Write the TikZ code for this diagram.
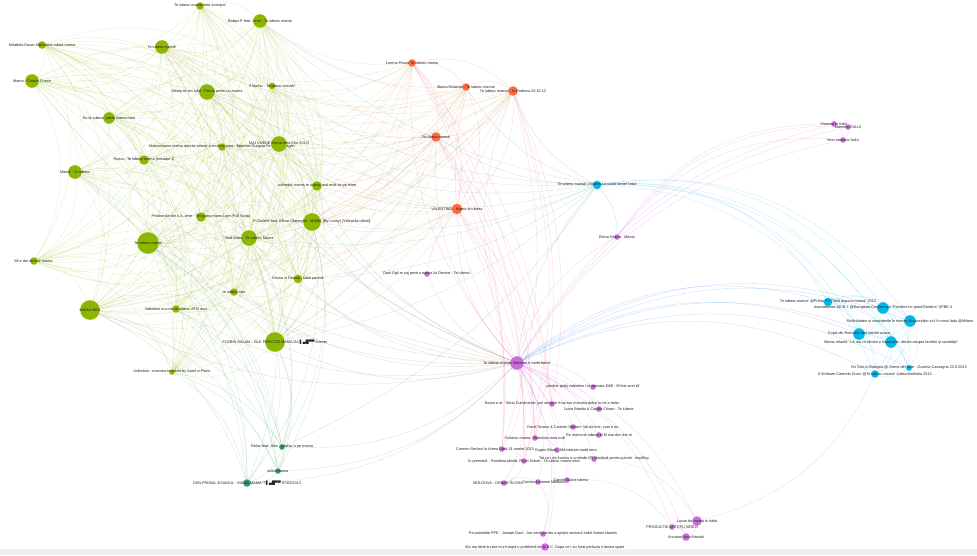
\documentclass[tikz,border=0pt]{standalone}
\usepackage{fontspec}
\setmainfont{Liberation Sans}
\newfontfamily\dv{DejaVu Sans}
\usetikzlibrary{backgrounds}
\definecolor{gcol}{HTML}{8DB600}
\definecolor{tcol}{HTML}{2F9A6A}
\definecolor{ocol}{HTML}{FF6A3D}
\definecolor{pcol}{HTML}{C86DD7}
\definecolor{ccol}{HTML}{00B7EB}
\definecolor{txt}{HTML}{222222}
\definecolor{eg}{HTML}{A3C63F}
\definecolor{eog}{HTML}{C9A35A}
\definecolor{eoo}{HTML}{F5907A}
\definecolor{epg}{HTML}{B4987A}
\definecolor{epo}{HTML}{EE8AA0}
\definecolor{epc}{HTML}{5A9CF0}
\definecolor{epp}{HTML}{DC8AE6}
\definecolor{ecc}{HTML}{55CFF2}
\definecolor{ecg}{HTML}{70C4A8}
\definecolor{etg}{HTML}{7CC08A}
\definecolor{etp}{HTML}{9A9AD0}
\definecolor{eoc}{HTML}{90A8B8}
\newcommand\lf{\fontsize{3.8}{4}\selectfont}
\tikzset{
  vtx/.style={circle, inner sep=0pt, minimum size=#1, draw=white, line width=0.15pt},
  gnode/.style={vtx=#1, fill=gcol},
  tnode/.style={vtx=#1, fill=tcol},
  onode/.style={vtx=#1, fill=ocol},
  pnode/.style={vtx=#1, fill=pcol},
  cnode/.style={vtx=#1, fill=ccol},
  every label/.style={font=\lf, text=txt, inner sep=0pt},
  edge/.style={draw=#1, line width=0.3pt, draw opacity=0.4},
  ledge/.style={draw=#1, line width=0.3pt, draw opacity=0.3},
}
\begin{document}
\begin{tikzpicture}[x=1pt,y=-1pt]
\useasboundingbox (0,0) rectangle (977,555);
% green cluster
\node[gnode=8pt, label={center:{Te iubesc mama mea scumpa!}}] (g1) at (200,6) {};
\node[gnode=14pt, label={center:{Baban P feat. Ionel - Te iubesc mamă}}] (g2) at (260,21) {};
\node[gnode=14pt, label={center:{Te iubesc mamă!}}] (g3) at (162,47) {};
\node[gnode=8pt, label={center:{Mirabela Dauer-Mă iubesc iubita mama}}] (g4) at (42,45) {};
\node[gnode=14pt, label={center:{Mama - Catalin Crisan}}] (g5) at (32,81) {};
\node[gnode=12pt, label={center:{Eu te iubesc, iubita mama mea}}] (g6) at (109,118) {};
\node[gnode=16pt, label={center:{Mama te-am iubit - Plecat pentru tu mama}}] (g7) at (207,92) {};
\node[gnode=7pt, label={center:{Il Marhu - Te iubesc mamă!}}] (g8) at (272,86) {};
\node[gnode=8pt, label={center:{Mama mama mama mea te iubesc si mult as vrea - Beatrice Gurguta Fernandi Dragan}}] (g9) at (222,147) {};
\node[gnode=16pt, label={center:{NUJ VUEUE Mama mea (live 2012)}}] (g10) at (279,144) {};
\node[gnode=10pt, label={center:{Ruma - Te iubesc mama [mixtape 1]}}] (g11) at (144,160) {};
\node[gnode=14pt, label={center:{Mama - Te iubesc}}] (g12) at (75,172) {};
\node[gnode=10pt, label={center:{colombo, mama te iubesc mai mult ca pe mine}}] (g13) at (317,186) {};
\node[gnode=10pt, label={center:{Pristina de dor s.A. vere - Te iubesc mami Lore (Full Song)}}] (g14) at (201,217) {};
\node[gnode=22pt, label={center:{Te iubesc mama}}] (g15) at (148,243) {};
\node[gnode=18pt, label={center:{P.Chuletti feat. Elena Gheorghe - MAMA (By Lanny) [Videoclip oficial]}}] (g16) at (312,222) {};
\node[gnode=16pt, label={center:{Vlad Dobu - Te iubesc Mama}}] (g17) at (249,238) {};
\node[gnode=8pt, label={center:{Mi e dor de tine mama.}}] (g18) at (34,261) {};
\node[gnode=9pt, label={center:{Ersina si Denisa - Iubiti parintii}}] (g19) at (298,279) {};
\node[gnode=8pt, label={center:{te iubesc tata}}] (g20) at (234,292) {};
\node[gnode=20pt, label={center:{MAMA MEA}}] (g21) at (90,310) {};
\node[gnode=8pt, label={center:{Valentino ma mia te iubesc 28 lli anni}}] (g22) at (176,309) {};
\node[gnode=20pt, label={center:{FLORIN SALAM - ZILE FERICITE MAMA DA {\dv ▌▄█▀▀} forever}}] (g23) at (275,342) {};
\node[gnode=6pt, label={center:{Valentino - mamma te adoro by Aurel si Florin}}] (g24) at (172,372) {};
% teal
\node[tnode=6pt, label={center:{Relax feat. Alex - Iubesc-o pe mama}}] (t1) at (282,447) {};
\node[tnode=6pt, label={center:{iubita mama}}] (t2) at (278,471) {};
\node[tnode=8pt, label={center:{DAN PRIMUL B.NAGUL - MAMA MAMA "T{\dv ▌▄█▀▀} 07/03/2013}}] (t3) at (247,483) {};
% orange
\node[onode=8pt, label={center:{Lorena Prisco Te iubesc mama}}] (o1) at (412,63) {};
\node[onode=8pt, label={center:{Mama Rolanda - Te iubesc mama!}}] (o2) at (466,87) {};
\node[onode=10pt, label={center:{Te iubesc mama! - la Podiova 20.10.12}}] (o3) at (513,91) {};
\node[onode=10pt, label={center:{Te iubesc mama!}}] (o4) at (436,137) {};
\node[onode=11pt, label={center:{VALENTINO - Mama te iubesc}}] (o5) at (457,209) {};
% pink
\node[pnode=14pt, label={center:{Te iubesc mama! Mamma ti vuole bene!}}] (p0) at (517,363) {};
\node[pnode=6pt, label={center:{Dani Ogli m vaj pentru mama lui Denise - Te iubesc!}}] (p1) at (427,274) {};
\node[pnode=6pt, label={center:{Elena Hasna - Mama}}] (p2) at (617,237) {};
\node[pnode=6pt, label={center:{Mamma in Italia}}] (p3) at (834,124) {};
\node[pnode=6pt, label={center:{Mamma ITALIA}}] (p4) at (848,127) {};
\node[pnode=6pt, label={center:{Mon mamma Italia}}] (p5) at (843,140) {};
\node[pnode=6pt, label={center:{pauline golej valentino I te adorata JMB - 90 bis anni W}}] (p6) at (593,387) {};
\node[pnode=6pt, label={center:{Barzo e ai - Silvia Dumitrache: per sempre il tuo tuo mamma dolce tu mi a Italia}}] (p7) at (552,404) {};
\node[pnode=6pt, label={center:{Luiza Botoloi \& Catalin Crisan - Te iubesc}}] (p8) at (599,409) {};
\node[pnode=6pt, label={center:{Dorel Taranu \& Carmen Serban: Val de tine, cum e ea}}] (p9) at (573,427) {};
\node[pnode=6pt, label={center:{Ro mama te iubesc si M mai dor tine ai}}] (p10) at (599,435) {};
\node[pnode=6pt, label={center:{Il iubesc mama - România mea mali}}] (p11) at (535,438) {};
\node[pnode=6pt, label={[xshift=-7pt]center:{Carmen Serban la Arena Drob 31 martie 2013}}] (p12) at (502,449) {};
\node[pnode=6pt, label={[xshift=9pt]center:{Eugen Blanii - Mă iubește toată mea}}] (p13) at (557,450) {};
\node[pnode=6pt, label={center:{Tot ce-i de frumos e a-ntinde (P) Meditatii pentru parinti - ImpBiny}}] (p14) at (594,459) {};
\node[pnode=6pt, label={center:{În premieră : România plinită, Florin Dobre - Te iubesc mama mea}}] (p15) at (524,461) {};
\node[pnode=6pt, label={[xshift=-6pt]center:{MOLDOVA - ORBAN ÎN ORA}}] (p16) at (504,483) {};
\node[pnode=6pt, label={[xshift=6pt]center:{Cantecul mamei Moldova}}] (p17) at (538,482) {};
\node[pnode=6pt, label={[xshift=4pt]center:{Cantec Dulce iubesc}}] (p18) at (567,480) {};
\node[pnode=10pt, label={center:{Lucuri de mama in Italia}}] (p19) at (697,521) {};
\node[pnode=6pt, label={center:{PRODUCTIE ARTEFU VIDEO}}] (p20) at (672,527) {};
\node[pnode=8pt, label={center:{Anunturi Irina Moniak}}] (p21) at (686,537) {};
\node[pnode=6pt, label={center:{Pe potriolele PPE - Joseph Daul - Am venit pentru a sprijini sectorul Italiei Kalosi shamis}}] (p22) at (543,534) {};
\node[pnode=8pt, label={center:{Ma ma tânără care murit după o problemă de la S.C. Dupa ce i-au furat perfuzia ii dosea spate}}] (p23) at (545,547) {};
% cyan
\node[cnode=9pt, label={center:{Te iubesc mama! | Mamma ti vuole bene! Italia}}] (c1) at (597,185) {};
\node[cnode=9pt, label={center:{Te iubesc mama! @Prima TV "Totul dupa ie mama" 2013}}] (c2) at (828,302) {};
\node[cnode=12pt, label={center:{Asociatiunea AD.R.I. @European Conference "Families for good Borders" (IPBE II}}] (c3) at (883,308) {};
\node[cnode=12pt, label={center:{Străinătatea și sinuciderile în mintea Bucureștilor și ii în omul lada @Milano}}] (c4) at (910,321) {};
\node[cnode=12pt, label={center:{Copiii din Romania fara parinti acasa}}] (c5) at (859,334) {};
\node[cnode=12pt, label={center:{Mama roluntă ' Lă ma ce rămăn a hopa bine: efecte asupra familiei și societății'}}] (c6) at (891,342) {};
\node[cnode=6pt, label={center:{Dn Giro in Bologna @ Arena del Sole - Gavinia Cassagna 22.9.2013}}] (c7) at (909,368) {};
\node[cnode=8pt, label={center:{Il Simbaro Carmelo Gucci @Te iubesc mama! Calecchio/Italia 2013}}] (c8) at (875,374) {};
\begin{scope}[on background layer]
\fill[gray!12] (0,549) rectangle (977,555);
% green clique
\foreach \i [evaluate=\i as \k using int(\i+1)] in {1,...,23}{
  \foreach \j in {\k,...,24}{
    \draw[ledge=eg] (g\i) to[bend left=30] (g\j);
  }
}
% teal
\draw[edge=etg] (t1) to[bend left=25] (t2);
\draw[edge=etg] (t2) to[bend left=25] (t3);
\draw[edge=etg] (t1) to[bend left=25] (t3);
\foreach \g in {12,15,16,17,21,22,23,24}{
  \foreach \t in {1,2,3}{\draw[edge=etg] (g\g) to[bend left=22] (t\t);}
}
\foreach \t in {1,2,3}{\draw[edge=etp] (p0) to[bend left=22] (t\t);}
\draw[edge=etp] (t1) to[bend right=15] (c1);
% orange
\foreach \a/\b in {o1/o2,o1/o3,o1/o4,o1/o5,o2/o3,o2/o4,o2/o5,o3/o4,o3/o5,o4/o5}{
  \draw[edge=eoo] (\a) to[bend left=28] (\b);
}
\foreach \o in {1,...,5}{
  \foreach \g in {2,3,7,8,9,10,13,15,16,17,19,21,23}{
    \draw[ledge=eog] (o\o) to[bend left=20] (g\g);
  }
  \draw[edge=epo] (p0) to[bend left=22] (o\o);
}
\foreach \o in {1,3,4,5}{
  \foreach \p in {7,11,12,15}{\draw[edge=epo] (o\o) to[bend left=16] (p\p);}
}
\draw[edge=eoc] (o3) to[bend right=20] (c1);
\draw[edge=eoc] (o2) to[bend right=20] (c1);
\draw[edge=eoc] (o4) to[bend right=15] (c1);
% hub to green
\foreach \g in {3,5,7,10,12,13,15,16,17,19,20,21,22,23}{
  \draw[edge=epg] (p0) to[bend left=20] (g\g);
}
% cyan
\foreach \g in {2,7,8,10,13,16,17,19,23}{
  \draw[edge=ecg] (c1) to[bend left=15] (g\g);
}
\foreach \c in {2,...,8}{
  \draw[edge=ecc] (c1) to[bend left=32] (c\c);
  \draw[edge=epc] (p0) to[bend left=26] (c\c);
}
\foreach \a/\b in {c2/c3,c2/c4,c2/c5,c2/c6,c2/c7,c2/c8,c3/c4,c3/c5,c3/c6,c3/c7,c3/c8,c4/c5,c4/c6,c4/c7,c4/c8,c5/c6,c5/c7,c5/c8,c6/c7,c6/c8,c7/c8}{
  \draw[edge=ecc] (\a) to[bend left=30] (\b);
}
\draw[edge=epc] (p0) to[bend left=16] (c1);
\draw[edge=epc] (c1) to[bend left=20] (p2);
% pink
\foreach \p in {1,...,23}{
  \draw[edge=epp] (p0) to[bend left=22] (p\p);
}
\foreach \a/\b in {p3/p4,p4/p5,p3/p5,p19/p20,p20/p21,p19/p21,p22/p23,p16/p17,p12/p15,p15/p16,p11/p13,p9/p10,p17/p22,p14/p19,p18/p20}{
  \draw[edge=epp] (\a) to[bend left=28] (\b);
}
\foreach \p in {3,4,5}{\draw[edge=epp] (p2) to[bend left=28] (p\p);}
\draw[edge=epp] (p19) to[bend right=25] (c8);
\draw[edge=epp] (p1) to[bend left=15] (o5);
\end{scope}
\end{tikzpicture}
\end{document}
